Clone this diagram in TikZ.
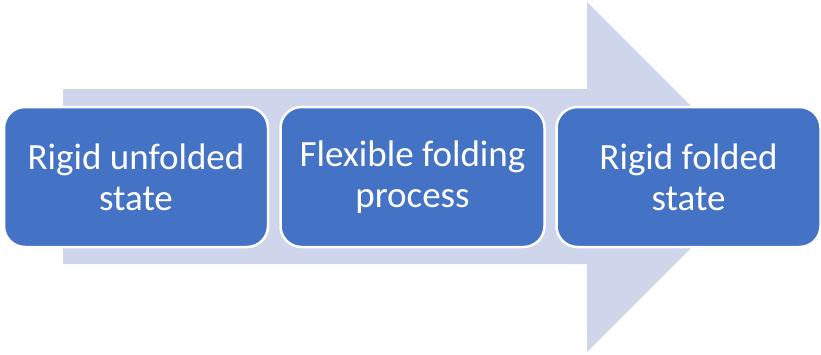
\documentclass[tikz,border=0pt]{standalone}
\usepackage{fontspec}
\setmainfont{Carlito}
\definecolor{arrowfill}{HTML}{CFD5EA}
\definecolor{stepfill}{HTML}{4472C4}
\begin{document}
\begin{tikzpicture}[x=1pt,y=-1pt,
  stepbox/.style={draw=white,line width=2.5pt,fill=stepfill,rounded corners=21pt,
    minimum width=264pt,minimum height=140pt,inner sep=0pt,
    text=white,align=center,font=\fontsize{37}{41}\selectfont}]
  \useasboundingbox (0,0) rectangle (821,354);
  % background block arrow
  \fill[arrowfill] (63,89) -- (587,89) -- (587,2) -- (762,177) -- (587,352)
    -- (587,264) -- (63,264) -- cycle;
  % process steps
  \node[stepbox] (s1) at (136,177) {Rigid unfolded\\state};
  \node[stepbox] (s2) at (412.5,177) {Flexible folding\\process};
  \node[stepbox] (s3) at (688.5,177) {Rigid folded\\state};
\end{tikzpicture}
\end{document}
